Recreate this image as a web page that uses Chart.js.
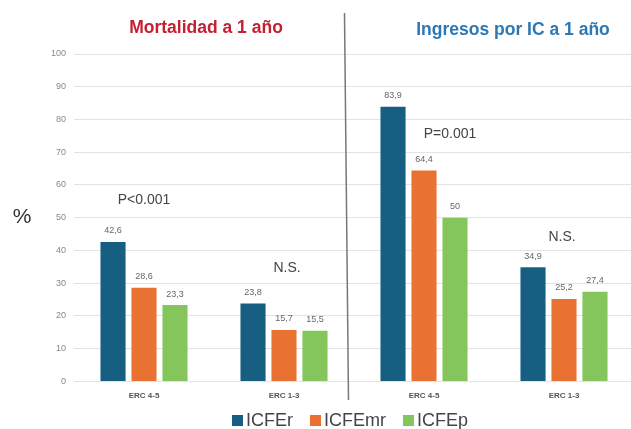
<!DOCTYPE html>
<html>
<head>
<meta charset="utf-8">
<script src="https://cdn.jsdelivr.net/npm/chart.js@4/dist/chart.umd.min.js"></script>
<style>
  html, body { margin: 0; padding: 0; background: #fff; }
  #wrap { width: 631px; height: 429px; overflow: hidden; position: relative; }
  #chart { position: absolute; left: 0; top: 0; }
</style>
</head>
<body>
<div id="wrap"><canvas id="chart" width="640" height="429"></canvas></div>
<script>
// categories and series
const categories = ['ERC 4-5', 'ERC 1-3', 'ERC 4-5', 'ERC 1-3'];
const seriesNames = ['ICFEr', 'ICFEmr', 'ICFEp'];
const icfeR = [42.6, 23.8, 83.9, 34.9];
const icfeMr = [28.6, 15.7, 64.4, 25.2];
const icfeP = [23.3, 15.5, 50, 27.4];
const yTicks = [0, 10, 20, 30, 40, 50, 60, 70, 80, 90, 100];

const colors = ['#175f82', '#e97233', '#84c65c'];
const FONT = '"Liberation Sans", Arial, sans-serif';

const fmt = (v) => String(v).replace('.', ',');

// extra text drawn on top: titles, significance notes, separator, legend
const decorations = {
  id: 'decorations',
  afterDatasetsDraw(chart) {
    const ctx = chart.ctx;
    const x = chart.scales.x;
    const y = chart.scales.y;
    ctx.save();

    // value labels above bars
    ctx.font = '9px ' + FONT;
    ctx.fillStyle = '#666';
    ctx.textAlign = 'center';
    ctx.textBaseline = 'middle';
    chart.data.datasets.forEach((ds, i) => {
      chart.getDatasetMeta(i).data.forEach((bar, j) => {
        ctx.fillText(fmt(ds.data[j]), bar.x, bar.y - 11);
      });
    });

    // titles
    ctx.font = 'bold 17.5px ' + FONT;
    ctx.fillStyle = '#c42030';
    ctx.fillText('Mortalidad a 1 año', 206, 28);
    ctx.fillStyle = '#2b78b5';
    ctx.fillText('Ingresos por IC a 1 año', 513, 30);

    // axis unit
    ctx.font = '21px ' + FONT;
    ctx.fillStyle = '#333';
    ctx.fillText('%', 22, 217);

    // significance notes
    ctx.font = '14px ' + FONT;
    ctx.fillStyle = '#444';
    ctx.fillText('P<0.001', x.getPixelForValue(0), y.getPixelForValue(55.3));
    ctx.fillText('N.S.', x.getPixelForValue(1) + 3, y.getPixelForValue(34.6));
    ctx.fillText('P=0.001', x.getPixelForValue(2) + 26, y.getPixelForValue(75.5));
    ctx.fillText('N.S.', x.getPixelForValue(3) - 2, y.getPixelForValue(44.2));

    // separator between the two panels
    ctx.strokeStyle = '#777';
    ctx.lineWidth = 1.5;
    ctx.beginPath();
    ctx.moveTo(344.5, 13);
    ctx.lineTo(348.5, 400);
    ctx.stroke();

    // legend
    ctx.font = '18px ' + FONT;
    ctx.textAlign = 'left';
    let lx = 232;
    chart.data.datasets.forEach((ds) => {
      ctx.fillStyle = ds.backgroundColor;
      ctx.fillRect(lx, 415, 11, 11);
      ctx.fillStyle = '#444';
      ctx.fillText(ds.label, lx + 14, 421);
      lx += 14 + ctx.measureText(ds.label).width + 17;
    });

    ctx.restore();
  }
};

new Chart(document.getElementById('chart'), {
  type: 'bar',
  data: {
    labels: categories,
    datasets: [icfeR, icfeMr, icfeP].map((values, i) => ({
      label: seriesNames[i],
      data: values,
      backgroundColor: colors[i],
      categoryPercentage: 0.664,
      barPercentage: 0.81
    }))
  },
  options: {
    responsive: false,
    animation: false,
    layout: { padding: { top: 54, right: 6, bottom: 18, left: 0 } },
    plugins: {
      legend: { display: false },
      tooltip: { enabled: false }
    },
    scales: {
      x: {
        grid: { display: false, drawTicks: false },
        border: { display: false },
        ticks: { font: { family: FONT, size: 8, weight: 'bold' }, color: '#555', padding: 10 }
      },
      y: {
        min: 0,
        max: 100,
        afterBuildTicks: (scale) => { scale.ticks = yTicks.map((v) => ({ value: v })); },
        afterFit: (scale) => { scale.width = 74; },
        grid: { color: '#e3e3e3', drawTicks: false },
        border: { display: false },
        ticks: { font: { family: FONT, size: 9 }, color: '#888', padding: 8 }
      }
    }
  },
  plugins: [decorations]
});
</script>
</body>
</html>
